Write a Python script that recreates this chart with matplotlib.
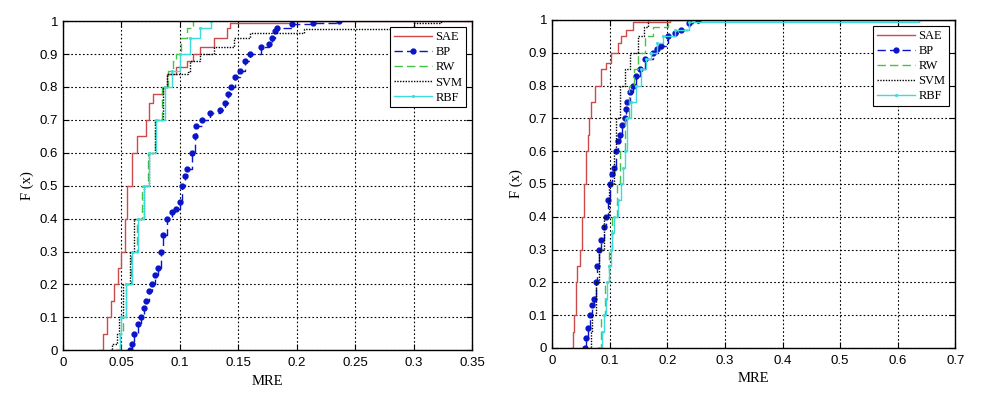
import numpy as np
import matplotlib
matplotlib.use('Agg')
import matplotlib.pyplot as plt
from matplotlib.ticker import FormatStrFormatter

# left panel: empirical CDF breakpoints (MRE, F)
l_sae_x = [0.031, 0.034, 0.038, 0.041, 0.044, 0.047, 0.050, 0.053, 0.055, 0.059, 0.063, 0.071,
           0.074, 0.077, 0.086, 0.089, 0.097, 0.106, 0.111, 0.117, 0.129, 0.140, 0.143, 0.196, 0.35]
l_sae_y = [0.0, 0.05, 0.1, 0.15, 0.2, 0.25, 0.3, 0.4, 0.5, 0.6, 0.65, 0.7,
           0.75, 0.78, 0.8, 0.84, 0.86, 0.88, 0.9, 0.92, 0.95, 0.98, 0.993, 1.0, 1.0]
l_bp_x = [0.057, 0.059, 0.061, 0.064, 0.067, 0.069, 0.071, 0.074, 0.076, 0.079, 0.081, 0.084, 0.086,
          0.089, 0.093, 0.097, 0.100, 0.102, 0.104, 0.106, 0.110, 0.113, 0.114, 0.119, 0.126,
          0.134, 0.139, 0.141, 0.144, 0.147, 0.151, 0.156, 0.160, 0.169, 0.176, 0.179, 0.181,
          0.183, 0.196, 0.214, 0.236]
l_bp_y = [0.0, 0.02, 0.05, 0.08, 0.1, 0.13, 0.15, 0.18, 0.2, 0.23, 0.25, 0.3, 0.35,
          0.4, 0.42, 0.43, 0.45, 0.5, 0.53, 0.55, 0.6, 0.65, 0.68, 0.7, 0.72,
          0.73, 0.75, 0.78, 0.8, 0.83, 0.85, 0.88, 0.9, 0.92, 0.93, 0.95, 0.97,
          0.98, 0.99, 0.995, 1.0]
l_rw_x = [0.046, 0.049, 0.051, 0.054, 0.058, 0.063, 0.068, 0.073, 0.079, 0.085, 0.090, 0.094,
          0.097, 0.101, 0.106, 0.111]
l_rw_y = [0.0, 0.05, 0.1, 0.2, 0.3, 0.4, 0.5, 0.6, 0.7, 0.8, 0.85, 0.88,
          0.9, 0.95, 0.98, 1.0]
l_svm_x = [0.040, 0.042, 0.046, 0.048, 0.051, 0.057, 0.061, 0.069, 0.074, 0.079, 0.086, 0.089,
           0.107, 0.109, 0.117, 0.129, 0.146, 0.160, 0.206, 0.300, 0.323]
l_svm_y = [0.0, 0.02, 0.05, 0.1, 0.2, 0.3, 0.4, 0.5, 0.6, 0.7, 0.8, 0.84,
           0.845, 0.88, 0.9, 0.92, 0.95, 0.965, 0.977, 0.995, 1.0]
l_rbf_x = [0.046, 0.049, 0.050, 0.054, 0.059, 0.064, 0.069, 0.074, 0.080, 0.087, 0.093, 0.100,
           0.109, 0.117, 0.127]
l_rbf_y = [0.0, 0.05, 0.1, 0.2, 0.3, 0.4, 0.5, 0.6, 0.7, 0.8, 0.85, 0.9,
           0.95, 0.98, 1.0]

# right panel
r_sae_x = [0.033, 0.036, 0.039, 0.042, 0.043, 0.049, 0.052, 0.055, 0.059, 0.062, 0.064, 0.068,
           0.075, 0.085, 0.093, 0.102, 0.114, 0.120, 0.128, 0.140, 0.205, 0.7]
r_sae_y = [0.0, 0.05, 0.1, 0.2, 0.25, 0.3, 0.4, 0.5, 0.6, 0.65, 0.7, 0.75,
           0.8, 0.85, 0.87, 0.9, 0.93, 0.95, 0.97, 0.993, 1.0, 1.0]
r_bp_x = [0.058, 0.060, 0.063, 0.066, 0.069, 0.073, 0.076, 0.079, 0.082, 0.086, 0.090, 0.093, 0.097,
          0.101, 0.104, 0.107, 0.111, 0.115, 0.118, 0.122, 0.126, 0.129, 0.131, 0.136, 0.140,
          0.146, 0.152, 0.162, 0.175, 0.183, 0.190, 0.202, 0.213, 0.224, 0.237, 0.253]
r_bp_y = [0.0, 0.03, 0.06, 0.1, 0.13, 0.15, 0.2, 0.25, 0.3, 0.33, 0.37, 0.4, 0.45,
          0.5, 0.53, 0.55, 0.6, 0.63, 0.65, 0.68, 0.7, 0.73, 0.75, 0.78, 0.8,
          0.83, 0.85, 0.88, 0.9, 0.91, 0.92, 0.95, 0.96, 0.97, 0.99, 1.0]
r_rw_x = [0.079, 0.086, 0.092, 0.099, 0.105, 0.113, 0.119, 0.126, 0.134, 0.143, 0.149, 0.161,
          0.175, 0.202]
r_rw_y = [0.0, 0.1, 0.2, 0.3, 0.4, 0.5, 0.6, 0.7, 0.8, 0.85, 0.9, 0.95,
          0.98, 1.0]
r_svm_x = [0.064, 0.067, 0.070, 0.076, 0.082, 0.090, 0.099, 0.107, 0.111, 0.118, 0.126, 0.136,
           0.149, 0.160, 0.167]
r_svm_y = [0.0, 0.05, 0.1, 0.2, 0.3, 0.4, 0.5, 0.6, 0.7, 0.8, 0.85, 0.9,
           0.95, 0.98, 1.0]
r_rbf_x = [0.082, 0.087, 0.090, 0.093, 0.096, 0.099, 0.102, 0.105, 0.108, 0.114, 0.120, 0.123,
           0.126, 0.131, 0.138, 0.146, 0.155, 0.163, 0.172, 0.183, 0.193, 0.213, 0.237, 0.636]
r_rbf_y = [0.0, 0.05, 0.1, 0.15, 0.2, 0.25, 0.3, 0.35, 0.4, 0.45, 0.5, 0.55,
           0.6, 0.7, 0.75, 0.8, 0.85, 0.88, 0.9, 0.93, 0.95, 0.97, 0.995, 1.0]

C_SAE = '#cc4a4a'
C_BP = '#0a14c8'
C_RW = '#44c444'
C_SVM = 'black'
C_RBF = '#3cdcdc'

serif = ['Liberation Serif', 'DejaVu Serif']
sans = ['Liberation Sans', 'DejaVu Sans']


def draw(ax, sae, bp, rw, svm, rbf, xmax, xstep):
    ax.plot(sae[0], sae[1], color=C_SAE, lw=1.0, drawstyle='steps-post', label='SAE')
    ax.plot(bp[0], bp[1], color=C_BP, lw=1.0, ls=(0, (6, 3)), marker='o', ms=3.5,
            drawstyle='steps-post', label='BP')
    ax.plot(rw[0], rw[1], color=C_RW, lw=1.0, ls=(0, (6, 3)), drawstyle='steps-post', label='RW')
    ax.plot(svm[0], svm[1], color=C_SVM, lw=1.0, ls=(0, (1, 1)), drawstyle='steps-post', label='SVM')
    ax.plot(rbf[0], rbf[1], color=C_RBF, lw=1.0, marker='.', ms=2.5,
            drawstyle='steps-post', label='RBF')
    ax.set_xlim(0, xmax)
    ax.set_ylim(0, 1)
    ax.set_xticks(np.arange(0, xmax + xstep / 2, xstep))
    ax.set_yticks(np.arange(0, 1.05, 0.1))
    ax.xaxis.set_major_formatter(FormatStrFormatter('%g'))
    ax.yaxis.set_major_formatter(FormatStrFormatter('%g'))
    ax.grid(True, color='black', ls=(0, (1.5, 2)), lw=0.8)
    ax.tick_params(direction='in', top=True, right=True, labelsize=9.5, length=4)
    ax.tick_params(axis='x', pad=5)
    for lab in ax.get_xticklabels() + ax.get_yticklabels():
        lab.set_family(sans)
    for sp in ax.spines.values():
        sp.set_linewidth(1.0)
    ax.set_xlabel('MRE', family=serif, fontsize=10.5, labelpad=4)
    ax.set_ylabel('F (x)', family=serif, fontsize=10.5, labelpad=4)
    leg = ax.legend(loc='upper right', prop={'family': serif, 'size': 9}, fancybox=False,
                    edgecolor='black', framealpha=1, borderaxespad=0.5, handlelength=3.0,
                    labelspacing=0.25, borderpad=0.3, handletextpad=0.3)
    leg.get_frame().set_linewidth(0.8)


fig = plt.figure(figsize=(9.82, 3.99), dpi=100)
ax1 = fig.add_axes([0.064, 0.122, 0.417, 0.825])
ax2 = fig.add_axes([0.562, 0.128, 0.411, 0.822])

draw(ax1, (l_sae_x, l_sae_y), (l_bp_x, l_bp_y), (l_rw_x, l_rw_y),
     (l_svm_x, l_svm_y), (l_rbf_x, l_rbf_y), 0.35, 0.05)
draw(ax2, (r_sae_x, r_sae_y), (r_bp_x, r_bp_y), (r_rw_x, r_rw_y),
     (r_svm_x, r_svm_y), (r_rbf_x, r_rbf_y), 0.7, 0.1)

fig.savefig('out.png', dpi=100)
